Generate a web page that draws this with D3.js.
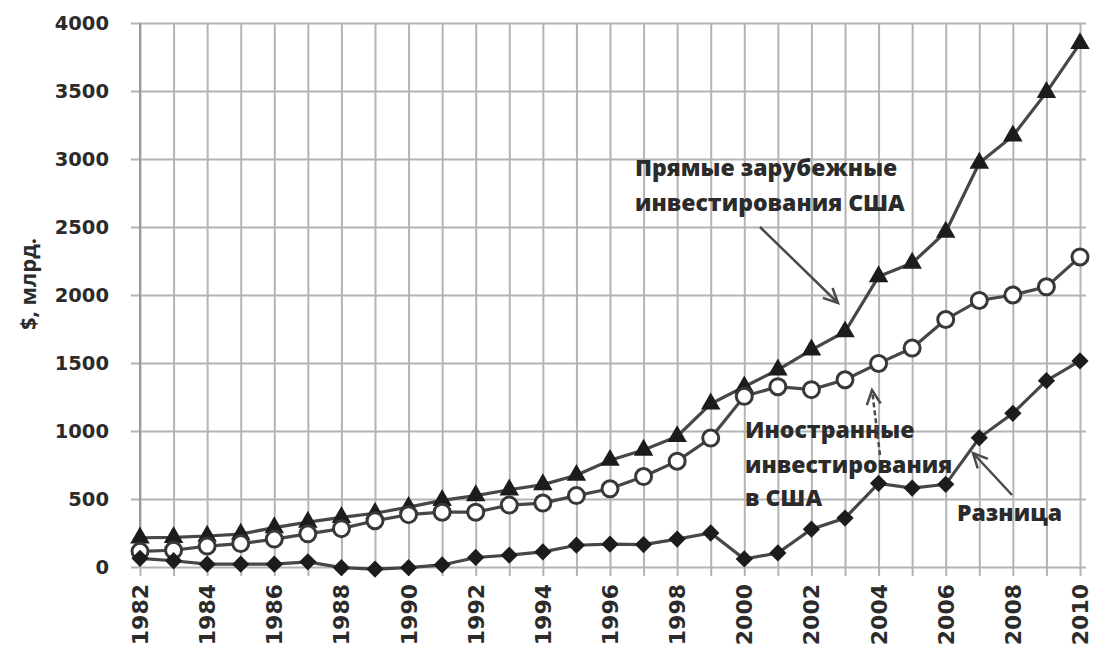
<!DOCTYPE html>
<html>
<head>
<meta charset="utf-8">
<script src="https://cdn.jsdelivr.net/npm/d3@7"></script>
<style>
  body { margin: 0; background: #fff; }
  text { font-family: "DejaVu Sans", Verdana, sans-serif; font-weight: bold; fill: #2b2b2b; }
</style>
</head>
<body>
<div id="chart"></div>
<script>
// Data
var years = [1982, 1983, 1984, 1985, 1986, 1987, 1988, 1989, 1990, 1991, 1992, 1993, 1994, 1995,
  1996, 1997, 1998, 1999, 2000, 2001, 2002, 2003, 2004, 2005, 2006, 2007, 2008, 2009, 2010];

// Прямые зарубежные инвестирования США (triangles)
var directAbroad = [215, 218, 228, 242, 290, 330, 365, 395, 440, 490, 525, 568, 606, 675,
  785, 860, 960, 1200, 1325, 1450, 1597, 1730, 2135, 2235, 2463, 2970, 3170, 3490, 3850];

// Иностранные инвестирования в США (open circles)
var foreignInUS = [115, 123, 154, 172, 205, 244, 282, 340, 385, 403, 403, 455, 470, 525,
  575, 665, 778, 948, 1255, 1326, 1304, 1377, 1497, 1610, 1820, 1960, 2000, 2060, 2280];

// Разница (diamonds)
var difference = [64, 46, 21, 21, 21, 38, -5, -15, -5, 15, 70, 87, 111, 160,
  168, 165, 205, 250, 59, 103, 278, 360, 615, 580, 608, 950, 1130, 1370, 1515];

var yTicks = [0, 500, 1000, 1500, 2000, 2500, 3000, 3500, 4000];
var xTickYears = years.filter(function(d) { return d % 2 === 0; });

// Dimensions (plot box in page pixels)
var W = 1098, H = 661;
var plotLeft = 140, plotRight = 1080, plotTop = 23, plotBottom = 567;

var svg = d3.select("#chart")
  .append("svg")
  .attr("width", W)
  .attr("height", H);

var x = d3.scalePoint()
  .domain(years)
  .range([plotLeft, plotRight]);

var y = d3.scaleLinear()
  .domain([0, 4000])
  .range([plotBottom, plotTop]);

var gridColor = "#b4b4b4";

// Vertical gridlines (one per year) with outward ticks
svg.append("g")
  .attr("transform", "translate(0," + plotBottom + ")")
  .call(d3.axisBottom(x).tickSizeOuter(0).tickFormat(""))
  .call(function(g) {
    g.select(".domain").remove();
    g.selectAll(".tick line")
      .attr("stroke", gridColor)
      .attr("stroke-width", 2)
      .attr("y1", 9)
      .attr("y2", -(plotBottom - plotTop));
  });

// Horizontal gridlines
svg.append("g")
  .attr("transform", "translate(" + plotLeft + ",0)")
  .call(d3.axisLeft(y).tickValues(yTicks).tickFormat(""))
  .call(function(g) {
    g.select(".domain").remove();
    g.selectAll(".tick line")
      .attr("stroke", gridColor)
      .attr("stroke-width", 2)
      .attr("x1", -9)
      .attr("x2", plotRight - plotLeft + 6);
  });

// Y axis line
svg.append("line")
  .attr("x1", plotLeft).attr("x2", plotLeft)
  .attr("y1", y(4000)).attr("y2", y(0))
  .attr("stroke", "#999").attr("stroke-width", 2);

// Y tick labels
svg.selectAll(".ylab")
  .data(yTicks)
  .enter()
  .append("text")
  .attr("x", 109)
  .attr("y", function(d) { return y(d); })
  .attr("dy", "0.36em")
  .attr("text-anchor", "end")
  .style("font-size", "19.5px")
  .text(function(d) { return d; });

// X tick labels (rotated)
svg.selectAll(".xlab")
  .data(xTickYears)
  .enter()
  .append("text")
  .attr("transform", function(d) { return "translate(" + (x(d) + 8) + ",584)rotate(-90)"; })
  .attr("text-anchor", "end")
  .style("font-size", "22px")
  .text(function(d) { return d; });

// Y axis title
svg.append("text")
  .attr("transform", "translate(36,284)rotate(-90)")
  .attr("text-anchor", "middle")
  .style("font-size", "22px")
  .style("font-family", "'Open Sans', sans-serif")
  .style("font-weight", "700")
  .text("$, млрд.");

// Lines
var line = d3.line()
  .x(function(d, i) { return x(years[i]); })
  .y(function(d) { return y(d); });

var lineColor = "#474747";

[directAbroad, foreignInUS, difference].forEach(function(series) {
  svg.append("path")
    .datum(series)
    .attr("fill", "none")
    .attr("stroke", lineColor)
    .attr("stroke-width", 3.2)
    .attr("d", line);
});

// Markers
svg.selectAll(".tri")
  .data(directAbroad)
  .enter()
  .append("path")
  .attr("d", d3.symbol().type(d3.symbolTriangle).size(165))
  .attr("transform", function(d, i) { return "translate(" + x(years[i]) + "," + y(d) + ")"; })
  .attr("fill", "#1c1c1c");

svg.selectAll(".circ")
  .data(foreignInUS)
  .enter()
  .append("circle")
  .attr("cx", function(d, i) { return x(years[i]); })
  .attr("cy", function(d) { return y(d); })
  .attr("r", 8)
  .attr("fill", "#fff")
  .attr("stroke", "#383838")
  .attr("stroke-width", 3);

svg.selectAll(".dia")
  .data(difference)
  .enter()
  .append("path")
  .attr("d", d3.symbol().type(d3.symbolDiamond2).size(190))
  .attr("transform", function(d, i) { return "translate(" + x(years[i]) + "," + y(d) + ")"; })
  .attr("fill", "#1c1c1c");

// Annotations
function label(lines, x0, baselines, size) {
  lines.forEach(function(t, i) {
    svg.append("text")
      .attr("x", x0)
      .attr("y", baselines[i])
      .style("font-size", size + "px")
      .style("font-family", "'Open Sans', sans-serif")
      .style("font-weight", "800")
      .text(t);
  });
}

label(["Прямые зарубежные", "инвестирования США"], 635, [176, 211], 23);
label(["Иностранные", "инвестирования", "в США"], 745, [438, 473, 506], 23);
label(["Разница"], 957, [521], 23);

function arrow(x1, y1, x2, y2, dashed) {
  var g = svg.append("g").attr("stroke", "#4a4a4a").attr("stroke-width", 2.5).attr("fill", "none");
  g.append("line")
    .attr("x1", x1).attr("y1", y1).attr("x2", x2).attr("y2", y2)
    .attr("stroke-dasharray", dashed ? "5,3" : null);
  var a = Math.atan2(y2 - y1, x2 - x1), len = 16, spread = 0.45;
  g.append("path")
    .attr("d", "M" + (x2 - len * Math.cos(a - spread)) + "," + (y2 - len * Math.sin(a - spread)) +
      "L" + x2 + "," + y2 +
      "L" + (x2 - len * Math.cos(a + spread)) + "," + (y2 - len * Math.sin(a + spread)));
}

arrow(760, 227, 838, 303, false);
arrow(880, 455, 872, 390, true);
arrow(1012, 495, 973, 453, false);
</script>
</body>
</html>
